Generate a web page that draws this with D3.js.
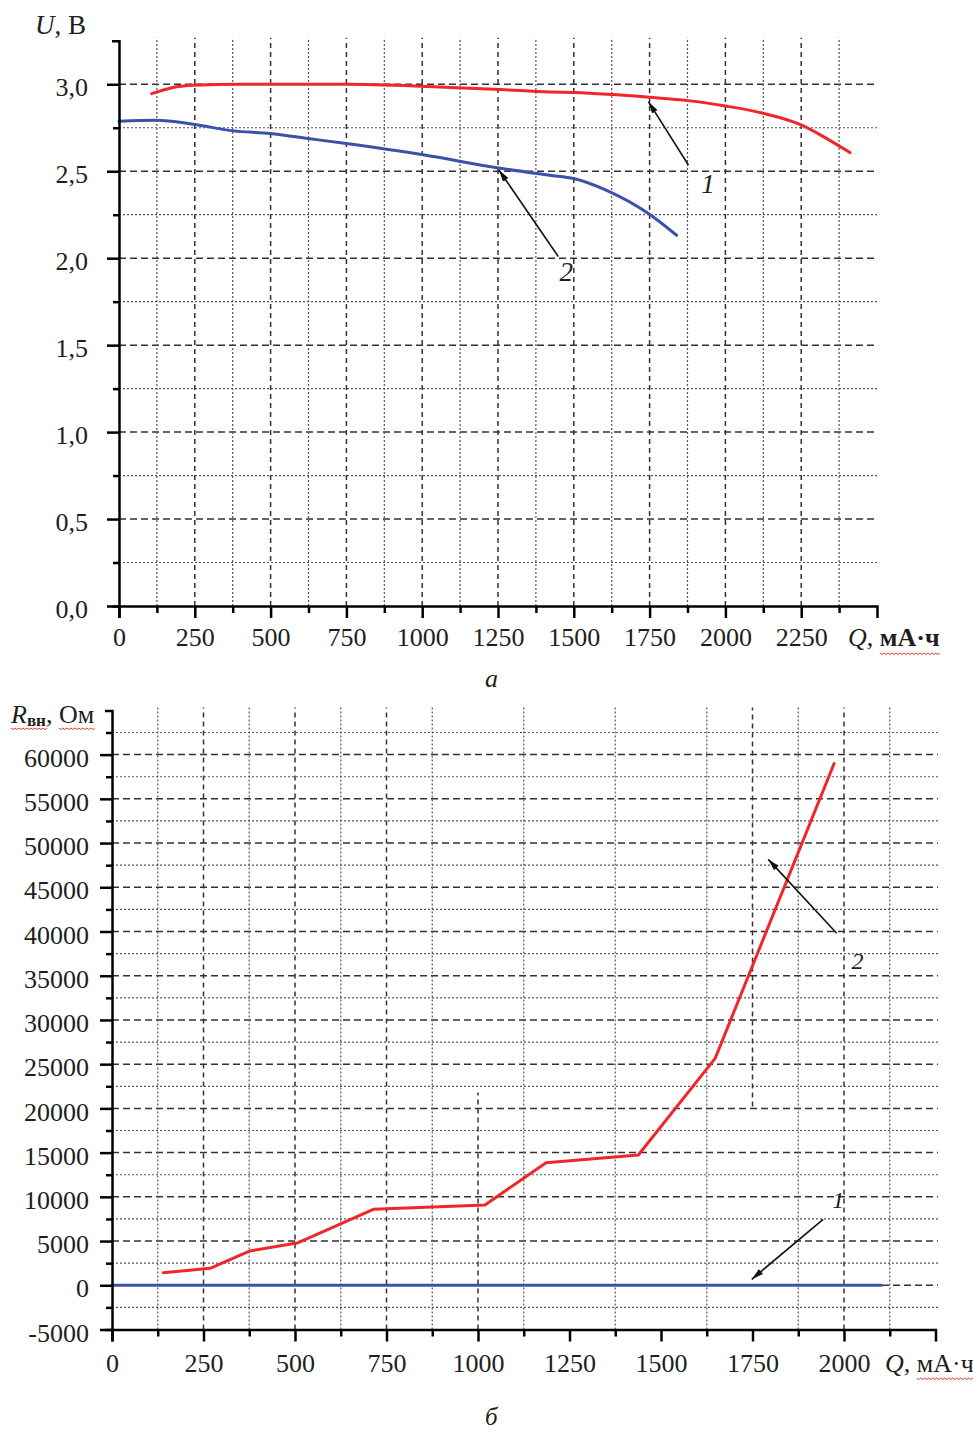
<!DOCTYPE html>
<html>
<head>
<meta charset="utf-8">
<script src="https://cdn.jsdelivr.net/npm/d3@7"></script>
<style>
  body { margin: 0; background: #fff; }
  text { font-family: "Liberation Serif", "Times New Roman", serif; fill: #1e1e1e; }
</style>
</head>
<body>
<div id="chart"></div>
<script>
// ---------- panel a: U(Q) ----------
var q_ticks_a = [0, 250, 500, 750, 1000, 1250, 1500, 1750, 2000, 2250];
var q_minor_a = [125, 375, 625, 875, 1125, 1375, 1625, 1875, 2125, 2375];
var u_ticks = [0, 0.5, 1.0, 1.5, 2.0, 2.5, 3.0];
var u_minor = [0.25, 0.75, 1.25, 1.75, 2.25, 2.75];

// curve 1 (red)
var q_a1 = [108, 174, 245, 400, 750, 1036, 1257, 1421, 1500, 1750, 1878, 2000, 2125, 2250, 2323, 2411];
var u_a1 = [2.946, 2.98, 2.994, 3.0, 3.0, 2.986, 2.97, 2.956, 2.952, 2.925, 2.906, 2.875, 2.833, 2.766, 2.699, 2.607];
// curve 2 (blue)
var q_a2 = [0, 124, 245, 377, 498, 624, 750, 998, 1251, 1421, 1500, 1608, 1746, 1839];
var u_a2 = [2.787, 2.793, 2.77, 2.732, 2.717, 2.688, 2.659, 2.596, 2.519, 2.477, 2.458, 2.39, 2.257, 2.132];

// arrows: [q tail, u tail, q head, u head], labels
var arrows_a = [[1878, 2.536, 1746, 2.90], [1449, 2.009, 1253, 2.507]];
var arrow_labels = ['1', '2'];
var label_pos_a = [[1943, 2.427], [1475, 1.926]];

// ---------- panel b: R(Q) ----------
var q_ticks_b = [0, 250, 500, 750, 1000, 1250, 1500, 1750, 2000];
var q_minor_b = [125, 375, 625, 875, 1125, 1375, 1625, 1875, 2125];
var r_ticks = [-5000, 0, 5000, 10000, 15000, 20000, 25000, 30000, 35000, 40000, 45000, 50000, 55000, 60000];
var r_minor = [-2500, 2500, 7500, 12500, 17500, 22500, 27500, 32500, 37500, 42500, 47500, 52500, 57500, 62500];

// curve 1 (blue)
var q_b1 = [0, 2103];
var r_b1 = [0, 0];
// curve 2 (red)
var q_b2 = [140, 268, 377, 509, 714, 1019, 1186, 1438, 1648, 1973];
var r_b2 = [1425, 1920, 3880, 4820, 8590, 9080, 13860, 14730, 25660, 59000];

var arrows_b = [[1943, 7460, 1748, 680], [1980, 39800, 1793, 48160]];
var label_pos_b = [[1984, 9640], [2037, 36700]];

// dashed verticals of panel b (some are only partly drawn in the original)
var q_vgrid_b = [250, 500, 750, 1000, 1750, 2000];
var r_vgrid_from = [-5000, -5000, -5000, -5000, 20200, -5000];
var r_vgrid_to = [65500, 65500, 65500, 21800, 65500, 65500];


var svg = d3.select('#chart')
  .append('svg')
  .attr('width', 973)
  .attr('height', 1431);

svg.append('defs').append('marker')
  .attr('id', 'head')
  .attr('markerUnits', 'userSpaceOnUse')
  .attr('viewBox', '0 -4 12 8')
  .attr('refX', 12).attr('refY', 0)
  .attr('markerWidth', 12).attr('markerHeight', 8)
  .attr('orient', 'auto')
  .append('path')
  .attr('d', 'M0,-3.2L12,0L0,3.2Z')
  .attr('fill', '#111');

// scales
var xa = d3.scaleLinear().domain([0, 2500]).range([119, 877]);
var ya = d3.scaleLinear().domain([0, 3.25]).range([606, 40.8]);
var xb = d3.scaleLinear().domain([0, 2250]).range([112, 935.5]);
var yb = d3.scaleLinear().domain([-5000, 65000]).range([1329.5, 710.4]);

function grid(x, y, hMajor, hMinor, vMajor, vMinor, xEnd) {
  var g = svg.append('g');
  var y0 = y.domain()[0], y1 = y.range()[1] - 3;
  g.selectAll('.hmaj').data(hMajor).enter().append('line')
    .attr('x1', x.range()[0]).attr('x2', xEnd)
    .attr('y1', d => y(d)).attr('y2', d => y(d))
    .attr('stroke', '#333').attr('stroke-width', 1.5)
    .attr('stroke-dasharray', '7,4');
  g.selectAll('.hmin').data(hMinor).enter().append('line')
    .attr('x1', x.range()[0]).attr('x2', xEnd)
    .attr('y1', d => y(d)).attr('y2', d => y(d))
    .attr('stroke', '#555').attr('stroke-width', 1.2)
    .attr('stroke-dasharray', '2,2');
  g.selectAll('.vmaj').data(vMajor).enter().append('line')
    .attr('x1', d => x(d[0])).attr('x2', d => x(d[0]))
    .attr('y1', d => y(d[1])).attr('y2', d => Math.max(y(d[2]), y1))
    .attr('stroke', '#333').attr('stroke-width', 1.5)
    .attr('stroke-dasharray', '5,4');
  g.selectAll('.vmin').data(vMinor).enter().append('line')
    .attr('x1', d => x(d)).attr('x2', d => x(d))
    .attr('y1', y(y0)).attr('y2', y1)
    .attr('stroke', '#555').attr('stroke-width', 1.2)
    .attr('stroke-dasharray', '2,2');
}

grid(xa, ya, u_ticks.slice(1), u_minor,
  q_ticks_a.slice(1).map(q => [q, 0, 3.3]), q_minor_a, 877);
grid(xb, yb, r_ticks.slice(1), r_minor,
  q_vgrid_b.map((q, i) => [q, r_vgrid_from[i], r_vgrid_to[i]]), q_minor_b, 938);

// curves
function curve(x, y, qs, vs, color, smooth) {
  var line = d3.line()
    .x(d => x(d[0]))
    .y(d => y(d[1]))
    .curve(smooth ? d3.curveMonotoneX : d3.curveLinear);
  svg.append('path')
    .datum(qs.map((q, i) => [q, vs[i]]))
    .attr('d', line)
    .attr('fill', 'none')
    .attr('stroke', color)
    .attr('stroke-width', 3)
    .attr('stroke-linejoin', 'round')
    .attr('stroke-linecap', 'round');
}

var red = '#f0262a', blue = '#3b52aa';
curve(xa, ya, q_a1, u_a1, red, true);
curve(xa, ya, q_a2, u_a2, blue, true);
curve(xb, yb, q_b1, r_b1, blue, false);
curve(xb, yb, q_b2, r_b2, red, false);

// axes
function styleAxis(g) {
  g.selectAll('path.domain').attr('stroke', '#000').attr('stroke-width', 2.5);
  g.selectAll('.tick line').attr('stroke', '#000').attr('stroke-width', 2.5);
  g.selectAll('text').attr('font-size', 26)
    .attr('font-family', '"Liberation Serif", "Times New Roman", serif')
    .attr('fill', '#1e1e1e');
}

function axes(x, y, qTicks, qMinor, vTicks, vMinor, fmt, padY, padX) {
  var bottom = y.range()[0], left = x.range()[0];
  svg.append('g').attr('transform', 'translate(0,' + bottom + ')')
    .call(d3.axisBottom(x).tickValues(qMinor).tickSize(7).tickFormat(''))
    .call(g => g.select('.domain').remove())
    .call(styleAxis);
  svg.append('g').attr('transform', 'translate(' + left + ',0)')
    .call(d3.axisLeft(y).tickValues(vMinor).tickSize(6).tickFormat(''))
    .call(g => g.select('.domain').remove())
    .call(styleAxis);
  svg.append('g').attr('transform', 'translate(0,' + bottom + ')')
    .call(d3.axisBottom(x).tickValues(qTicks).tickSize(12).tickSizeOuter(12)
      .tickPadding(padX).tickFormat(d => String(d)))
    .call(styleAxis);
  svg.append('g').attr('transform', 'translate(' + left + ',0)')
    .call(d3.axisLeft(y).tickValues(vTicks).tickSize(12).tickSizeOuter(7)
      .tickPadding(padY).tickFormat(fmt))
    .call(styleAxis)
    .call(g => g.selectAll('text').attr('dy', '0.45em'));
}

axes(xa, ya, q_ticks_a, q_minor_a, u_ticks, u_minor,
  d => d3.format('.1f')(d).replace('.', ','), 19, 10);
axes(xb, yb, q_ticks_b, q_minor_b, r_ticks, r_minor,
  d => String(d), 11, 12);

// arrows with numbers
function arrows(x, y, list, pos, size) {
  svg.selectAll(null).data(list).enter().append('line')
    .attr('x1', d => x(d[0])).attr('y1', d => y(d[1]))
    .attr('x2', d => x(d[2])).attr('y2', d => y(d[3]))
    .attr('stroke', '#111').attr('stroke-width', 1.6)
    .attr('marker-end', 'url(#head)');
  svg.selectAll(null).data(pos).enter().append('text')
    .attr('x', d => x(d[0])).attr('y', d => y(d[1]))
    .attr('dy', '0.35em')
    .attr('text-anchor', 'middle')
    .attr('font-size', size)
    .attr('font-style', 'italic')
    .text((d, i) => arrow_labels[i]);
}
arrows(xa, ya, arrows_a, label_pos_a, 27);
arrows(xb, yb, arrows_b, label_pos_b, 24);

// red spell-check squiggle under some words
function squiggle(x0, x1, y) {
  var p = 'M' + x0 + ',' + y;
  for (var x = x0, k = 0; x < x1; x += 2, k++) {
    p += 'L' + (x + 2) + ',' + (y + (k % 2 ? 0 : 1.6));
  }
  svg.append('path').attr('d', p).attr('fill', 'none')
    .attr('stroke', '#e8352f').attr('stroke-width', 1);
}
function underChars(text, i0, i1, y) {
  var a = text.node().getExtentOfChar(i0), b = text.node().getExtentOfChar(i1);
  squiggle(a.x, b.x + b.width, y);
}

// axis titles
var ta = svg.append('text').attr('x', 35).attr('y', 34).attr('font-size', 27);
ta.append('tspan').attr('font-style', 'italic').text('U');
ta.append('tspan').text(', В');

var qa = svg.append('text').attr('x', 848).attr('y', 646).attr('font-size', 26);
qa.append('tspan').attr('font-style', 'italic').text('Q');
qa.append('tspan').text(', ');
qa.append('tspan').attr('font-weight', 'bold').text('мА·ч');
underChars(qa, 3, 6, 653);

var tb = svg.append('text').attr('x', 11).attr('y', 723).attr('font-size', 26);
tb.append('tspan').attr('font-style', 'italic').text('R');
tb.append('tspan').attr('font-size', 17).attr('font-weight', 'bold').attr('dy', 3).text('вн');
tb.append('tspan').attr('dy', -3).text(', Ом');
underChars(tb, 0, 2, 728);
underChars(tb, 5, 6, 728);

var qb = svg.append('text').attr('x', 885).attr('y', 1372).attr('font-size', 26);
qb.append('tspan').attr('font-style', 'italic').text('Q');
qb.append('tspan').text(', мА·ч');
underChars(qb, 3, 6, 1378);

// panel captions
svg.append('text').attr('x', 485).attr('y', 687).attr('font-size', 26)
  .attr('font-style', 'italic').text('а');
svg.append('text').attr('x', 485).attr('y', 1425).attr('font-size', 25)
  .attr('font-style', 'italic').text('б');
</script>
</body>
</html>
